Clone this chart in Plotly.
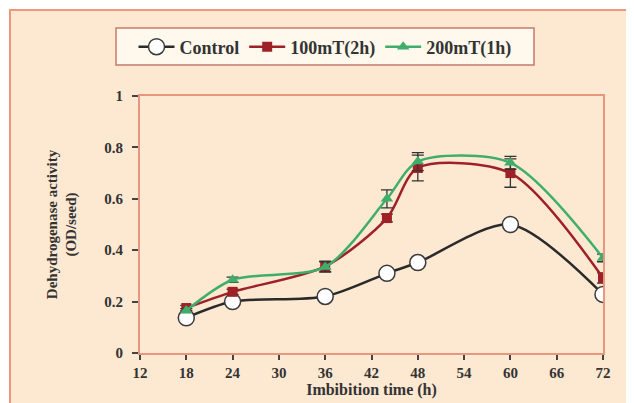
import plotly.graph_objects as go

hours = [18, 24, 36, 44, 48, 60, 72]
control = [0.137, 0.200, 0.220, 0.310, 0.352, 0.500, 0.228]
mt100 = [0.175, 0.238, 0.337, 0.525, 0.720, 0.700, 0.292]
mt200 = [0.165, 0.285, 0.335, 0.600, 0.745, 0.740, 0.370]
mt100_err = [0.010, 0.010, 0.020, 0.015, 0.050, 0.055, 0.020]
mt200_err = [0.008, 0.010, 0.020, 0.035, 0.035, 0.025, 0.015]
x_ticks = [12, 18, 24, 30, 36, 42, 48, 54, 60, 66, 72]
y_ticks = [0, 0.2, 0.4, 0.6, 0.8, 1]
y_tick_labels = ["0", "0.2", "0.4", "0.6", "0.8", "1"]

FONT = "Liberation Serif"

fig = go.Figure()
fig.add_trace(go.Scatter(
    x=hours, y=control, name="Control", mode="lines+markers",
    line=dict(color="#2a2a2a", width=2.5, shape="spline", smoothing=0.8),
    marker=dict(symbol="circle", size=16, color="white", line=dict(color="#3a3a3a", width=1.5)),
))
fig.add_trace(go.Scatter(
    x=hours, y=mt100, name="100mT(2h)", mode="lines+markers",
    line=dict(color="#9e2128", width=2.5, shape="spline", smoothing=0.8),
    marker=dict(symbol="square", size=10, color="#9e2128"),
    error_y=dict(type="data", array=mt100_err, color="#333333", thickness=1.3, width=6),
))
fig.add_trace(go.Scatter(
    x=hours, y=mt200, name="200mT(1h)", mode="lines+markers",
    line=dict(color="#3fae6a", width=2.5, shape="spline", smoothing=0.8),
    marker=dict(symbol="triangle-up", size=11, color="#3fae6a"),
    error_y=dict(type="data", array=mt200_err, color="#333333", thickness=1.3, width=6),
))

# peach frame behind the chart
fig.add_shape(type="rect", xref="paper", yref="paper",
              x0=-0.2808, x1=1.2, y0=-0.4, y1=1.3346,
              fillcolor="#fde8d2", line=dict(color="#f0967a", width=2), layer="below")
# legend box
fig.add_shape(type="rect", xref="paper", yref="paper",
              x0=-0.0518, x1=0.851, y0=1.1206, y1=1.2646,
              fillcolor="#fff8ec", line=dict(color="#c8796a", width=1.5), layer="below")

fig.update_layout(
    width=634, height=403,
    margin=dict(l=132, r=39, t=88, b=58, autoexpand=False),
    paper_bgcolor="white",
    plot_bgcolor="#fffdec",
    font=dict(family=FONT, color="#333333", size=13),
    showlegend=True,
    legend=dict(
        orientation="h", x=0.3996, xanchor="center", y=1.1907, yanchor="middle",
        bgcolor="rgba(0,0,0,0)", borderwidth=0, itemwidth=36,
        font=dict(family=FONT, size=18, color="#333333", weight="bold"),
        tracegroupgap=0,
    ),
    xaxis=dict(
        range=[12, 72], tickvals=x_ticks, ticks="outside", ticklen=5, tickwidth=1.5,
        tickcolor="#444444", showgrid=False, zeroline=False,
        showline=True, linecolor="#e8967e", linewidth=2, mirror=True,
        tickfont=dict(family=FONT, size=15, color="#333333", weight="bold"),
        title=dict(text="Imbibition time (h)", standoff=4,
                   font=dict(family=FONT, size=16, color="#333333", weight="bold")),
    ),
    yaxis=dict(
        range=[0, 1], tickvals=y_ticks, ticktext=y_tick_labels, ticks="outside", ticklen=6,
        tickwidth=1.5, tickcolor="#444444", showgrid=False, zeroline=False,
        showline=True, linecolor="#e8967e", linewidth=2, mirror=True,
        ticklabelstandoff=6,
        tickfont=dict(family=FONT, size=15, color="#333333", weight="bold"),
        title=dict(text="Dehydrogenase activity<br>(OD/seed)", standoff=24,
                   font=dict(family=FONT, size=15, color="#333333", weight="bold")),
    ),
)

fig.write_html("out.html")
